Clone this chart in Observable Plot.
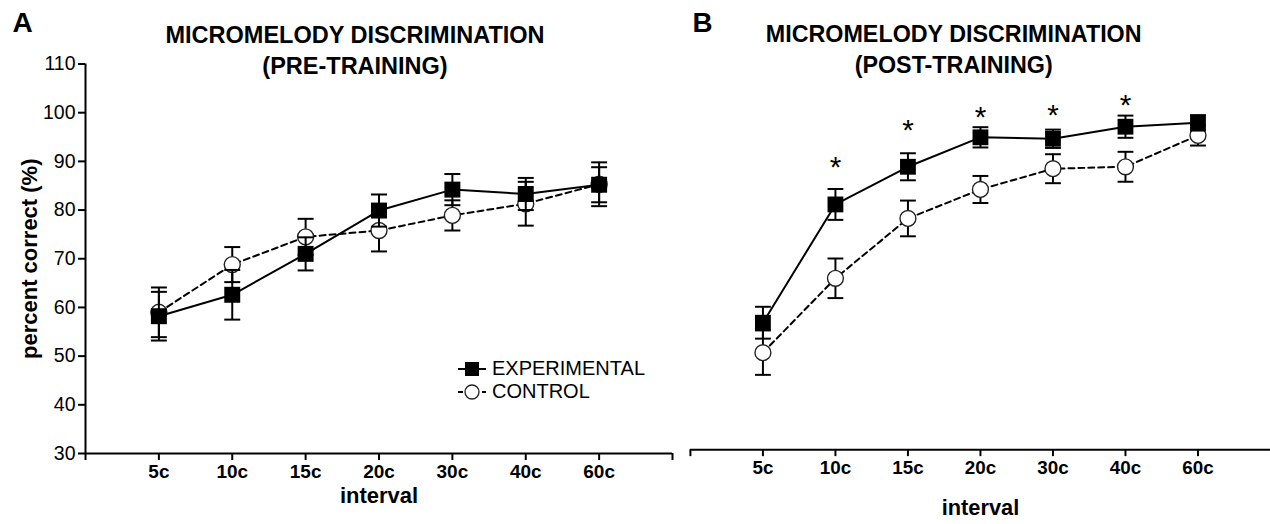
<!DOCTYPE html>
<html><head><meta charset="utf-8">
<script src="https://cdn.jsdelivr.net/npm/d3@7"></script>
<script src="https://cdn.jsdelivr.net/npm/@observablehq/plot@0.6"></script>
<style>
html,body{margin:0;padding:0;background:#fff;overflow:hidden;}
#wrap{position:relative;width:1270px;height:524px;overflow:hidden;font-family:"Liberation Sans",Arial,sans-serif;}
#left{position:absolute;left:0;top:0;}
#right{position:absolute;left:680px;top:0;}
#legend{position:absolute;left:457px;top:357px;font-size:20px;color:#000;line-height:23px;}
#legend .row{display:flex;align-items:center;height:23px;}
#legend svg{margin-right:5px;}
</style></head><body>
<div id="wrap"><div id="left"></div><div id="right"></div><div id="legend"></div></div>
<script>
// ---- data ----
const intervals = ["5c", "10c", "15c", "20c", "30c", "40c", "60c"];
const seriesNames = ["EXPERIMENTAL", "CONTROL"];

const preExp    = [58.2, 62.6, 71.0, 79.9, 84.2, 83.3, 85.2];
const preExpErr = [5.0, 5.1, 3.4, 3.3, 3.2, 3.3, 3.6];
const preCtl    = [59.0, 68.8, 74.5, 75.8, 78.9, 81.3, 85.3];
const preCtlErr = [5.1, 3.6, 3.7, 4.3, 3.1, 4.5, 4.5];

const postExp    = [56.3, 80.8, 88.6, 94.7, 94.4, 96.9, 97.7];
const postExpErr = [3.3, 3.2, 2.8, 2.1, 1.9, 2.3, 1.6];
const postCtl    = [50.1, 65.5, 77.9, 83.9, 88.2, 88.6, 95.1];
const postCtlErr = [4.6, 4.1, 3.7, 2.8, 3.0, 3.1, 2.1];

const sigIntervals = ["10c", "15c", "20c", "30c", "40c"];
const sigY = [90.2, 97.7, 100.4, 100.8, 103.0];

const yTicks = [30, 40, 50, 60, 70, 80, 90, 100, 110];

// ---- helpers ----
const FONT = '"Liberation Sans", Arial, sans-serif';
const capSymbol = {
  draw(ctx, size) { const w = Math.sqrt(size); ctx.moveTo(-w / 2, 0); ctx.lineTo(w / 2, 0); }
};
const idx = (name) => intervals.indexOf(name) + 1;

function buildRows(exp, expErr, ctl, ctlErr) {
  return intervals.map((k, j) => ({i: j + 1, interval: k, exp: exp[j], expErr: expErr[j], ctl: ctl[j], ctlErr: ctlErr[j]}));
}
function caps(rows, key, errKey) {
  return rows.flatMap(d => [{i: d.i, y: d[key] + d[errKey]}, {i: d.i, y: d[key] - d[errKey]}]);
}

function panel(o) {
  const rows = buildRows(o.exp, o.expErr, o.ctl, o.ctlErr);
  const marks = [
    Plot.ruleY([30], {x1: 0, x2: 8, stroke: "#000", strokeWidth: 2}),
    Plot.axisX({ticks: o.xTicks, tickSize: 7, tickPadding: 4, strokeWidth: 2,
      tickFormat: d => (d >= 1 && d <= 7 ? intervals[d - 1] : ""),
      fontSize: 19, fontWeight: "bold", label: null}),
    Plot.text(["interval"], {frameAnchor: "bottom", dy: o.labelDy, lineAnchor: "middle",
      fontSize: 22, fontWeight: "bold"}),
    Plot.text([o.letter], {frameAnchor: "top-left", dx: o.letterDx, dy: -41, lineAnchor: "middle",
      textAnchor: "start", fontSize: 28, fontWeight: "bold"}),
    Plot.text(["MICROMELODY DISCRIMINATION"], {frameAnchor: "top", dx: o.titleDx, dy: -29, lineAnchor: "middle",
      fontSize: 23.5, fontWeight: "bold"}),
    Plot.text([o.title2], {frameAnchor: "top", dx: o.titleDx, dy: 2, lineAnchor: "middle",
      fontSize: 23.5, fontWeight: "bold"}),
    // control series
    Plot.line(rows, {x: "i", y: "ctl", stroke: "#000", strokeWidth: 2, strokeDasharray: "6,4"}),
    Plot.ruleX(rows, {x: "i", y1: d => d.ctl - d.ctlErr, y2: d => d.ctl + d.ctlErr, stroke: "#000", strokeWidth: 2}),
    Plot.dot(caps(rows, "ctl", "ctlErr"), {x: "i", y: "y", symbol: capSymbol, r: 9, fill: "none", stroke: "#000", strokeWidth: 2}),
    Plot.dot(rows, {x: "i", y: "ctl", r: 8, fill: "#fff", stroke: "#222", strokeWidth: 1.4}),
    // experimental series
    Plot.line(rows, {x: "i", y: "exp", stroke: "#000", strokeWidth: 2}),
    Plot.ruleX(rows, {x: "i", y1: d => d.exp - d.expErr, y2: d => d.exp + d.expErr, stroke: "#000", strokeWidth: 2}),
    Plot.dot(caps(rows, "exp", "expErr"), {x: "i", y: "y", symbol: capSymbol, r: 9, fill: "none", stroke: "#000", strokeWidth: 2}),
    Plot.dot(rows, {x: "i", y: "exp", symbol: "square", r: 9, fill: "#000", stroke: "none"})
  ];
  if (o.showY) {
    marks.unshift(
      Plot.ruleX([0], {y1: 30, y2: 110, stroke: "#000", strokeWidth: 2}),
      Plot.axisY({ticks: yTicks, tickSize: 7, tickPadding: 3, strokeWidth: 2, fontSize: 19.5, label: null}),
      Plot.text(["percent correct (%)"], {frameAnchor: "left", dx: -56, rotate: -90,
        textAnchor: "middle", lineAnchor: "middle", fontSize: 22, fontWeight: "bold"})
    );
  }
  if (o.sig) {
    marks.push(Plot.text(o.sig, {x: d => idx(d.interval), y: "y", text: () => "*", fontSize: 30, dy: 8}));
  }
  return Plot.plot({
    width: o.width, height: 524,
    marginLeft: o.marginLeft, marginRight: o.marginRight, marginTop: 63.5, marginBottom: 71,
    x: {type: "linear", domain: [0, 8], axis: null},
    y: {domain: [30, 110], axis: null},
    style: {fontFamily: FONT, background: "transparent", color: "#000", overflow: "visible"},
    marks
  });
}

document.getElementById("left").append(panel({
  exp: preExp, expErr: preExpErr, ctl: preCtl, ctlErr: preCtlErr,
  width: 680, marginLeft: 85, marginRight: 8, xTicks: [0, 1, 2, 3, 4, 5, 6, 7, 8], showY: true,
  letter: "A", letterDx: -73, titleDx: -24, title2: "(PRE-TRAINING)", labelDy: 42
}));

document.getElementById("right").append(panel({
  exp: postExp, expErr: postExpErr, ctl: postCtl, ctlErr: postCtlErr,
  width: 595, marginLeft: 10, marginRight: 0, xTicks: [0, 1, 2, 3, 4, 5, 6, 7], showY: false,
  letter: "B", letterDx: 2, titleDx: -27, title2: "(POST-TRAINING)", labelDy: 59,
  sig: sigIntervals.map((k, j) => ({interval: k, y: sigY[j]}))
}));

// legend
const legend = document.getElementById("legend");
seriesNames.forEach((name, j) => {
  const row = document.createElement("div");
  row.className = "row";
  const sym = j === 0
    ? '<svg width="30" height="20"><line x1="1" y1="10" x2="29" y2="10" stroke="#000" stroke-width="2"/><rect x="8" y="3" width="14" height="14" fill="#000"/></svg>'
    : '<svg width="30" height="20"><line x1="1" y1="10" x2="29" y2="10" stroke="#000" stroke-width="2" stroke-dasharray="5,3"/><circle cx="15" cy="10" r="7" fill="#fff" stroke="#222" stroke-width="1.3"/></svg>';
  row.innerHTML = sym + "<span>" + name + "</span>";
  legend.append(row);
});
</script>
</body></html>
